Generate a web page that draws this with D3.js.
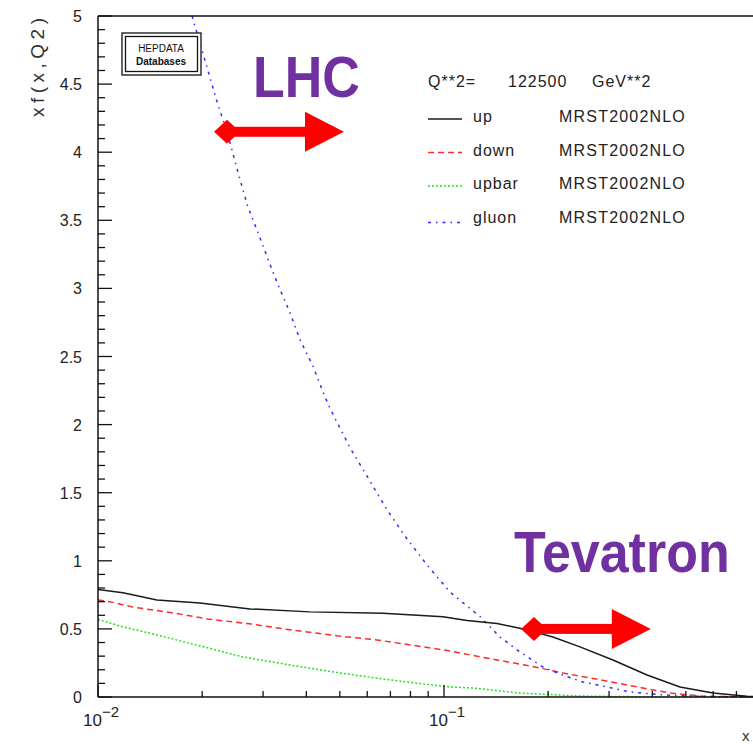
<!DOCTYPE html>
<html>
<head>
<meta charset="utf-8">
<script src="https://cdn.jsdelivr.net/npm/d3@7"></script>
<style>
  html, body { margin: 0; padding: 0; background: #fff; }
  svg { display: block; }
  text { font-family: "Liberation Sans", Arial, Helvetica, sans-serif; }
</style>
</head>
<body>
<svg id="chart" width="753" height="744"></svg>
<script>
// ---------------- data ----------------
const xUp    = [0.01, 0.0118, 0.0148, 0.0197, 0.0275, 0.041, 0.0666, 0.0993, 0.1166, 0.1423, 0.1692, 0.2065, 0.2472, 0.3078, 0.3862, 0.4809, 0.599, 0.751, 0.9];
const up     = [0.79, 0.765, 0.713, 0.69, 0.647, 0.625, 0.615, 0.59, 0.562, 0.54, 0.50, 0.44, 0.368, 0.272, 0.162, 0.074, 0.029, 0.005, 0.0];

const xDown  = [0.01, 0.0108, 0.0126, 0.0165, 0.0207, 0.0275, 0.0359, 0.0491, 0.064, 0.087, 0.1041, 0.1189, 0.1423, 0.1773, 0.2208, 0.2642, 0.3162, 0.3758, 0.4498, 0.561, 0.9];
const down   = [0.713, 0.70, 0.66, 0.617, 0.573, 0.537, 0.493, 0.449, 0.419, 0.368, 0.338, 0.309, 0.272, 0.228, 0.176, 0.14, 0.103, 0.066, 0.029, 0.005, 0.0];

const xUpbar = [0.01, 0.0118, 0.0148, 0.0197, 0.0263, 0.0359, 0.0478, 0.0666, 0.087, 0.1041, 0.1213, 0.1659, 0.2472, 0.3938, 0.716, 0.9];
const upbar  = [0.57, 0.515, 0.456, 0.375, 0.294, 0.235, 0.184, 0.132, 0.096, 0.074, 0.066, 0.029, 0.007, 0.001, 0.0, 0.0];

const xGluon = [0.0187, 0.0222, 0.0236, 0.0254, 0.0271, 0.029, 0.0318, 0.0336, 0.0359, 0.0384, 0.0418, 0.0447, 0.0468, 0.0535, 0.0603, 0.0684, 0.0772, 0.0893, 0.1041, 0.1271, 0.1452, 0.1659, 0.1932, 0.2208, 0.2522, 0.2958, 0.3448, 0.4295, 0.5383, 0.716, 0.9];
const gluon  = [5.0, 4.35, 4.15, 3.85, 3.60, 3.41, 3.14, 2.99, 2.82, 2.62, 2.43, 2.24, 2.12, 1.83, 1.61, 1.375, 1.18, 0.97, 0.77, 0.59, 0.44, 0.33, 0.22, 0.16, 0.11, 0.074, 0.037, 0.015, 0.005, 0.0, 0.0];

const seriesNames  = ["up", "down", "upbar", "gluon"];
const seriesSets   = ["MRST2002NLO", "MRST2002NLO", "MRST2002NLO", "MRST2002NLO"];
const yTickLabels  = ["0", "0.5", "1", "1.5", "2", "2.5", "3", "3.5", "4", "4.5", "5"];
const xMajorTicks  = [0.01, 0.1, 1];
const xLabelTicks  = [0.01, 0.1];
const xLabelExps   = ["\u22122", "\u22121"];
const headerParts  = ["Q**2=", "122500", "GeV**2"];

// ---------------- layout ----------------
const svg = d3.select("#chart");
const x = d3.scaleLog().domain([0.01, 1]).range([98, 790]);
const y = d3.scaleLinear().domain([0, 5]).range([697, 16]);

const styles = {
  up:    { color: "#1a1a1a", dash: null },
  down:  { color: "#ff2a2a", dash: "6,4" },
  upbar: { color: "#1fe01f", dash: "2,2" },
  gluon: { color: "#2b2bff", dash: "3,5,1.5,5" }
};

const seriesData = {
  up:    xUp.map((v, i) => [v, up[i]]),
  down:  xDown.map((v, i) => [v, down[i]]),
  upbar: xUpbar.map((v, i) => [v, upbar[i]]),
  gluon: xGluon.map((v, i) => [v, gluon[i]])
};

// clip
svg.append("defs").append("clipPath").attr("id", "plotclip")
  .append("rect").attr("x", 98).attr("y", 16).attr("width", 700).attr("height", 682);

// curves
const line = d3.line().x(d => x(d[0])).y(d => y(d[1]));
const curves = svg.append("g").attr("clip-path", "url(#plotclip)");
["upbar", "down", "gluon", "up"].forEach(k => {
  curves.append("path")
    .datum(seriesData[k])
    .attr("d", line)
    .attr("fill", "none")
    .attr("stroke", styles[k].color)
    .attr("stroke-width", 1.5)
    .attr("stroke-dasharray", styles[k].dash);
});

// frame
const axisColor = "#111";
svg.append("line").attr("x1", 98).attr("x2", 753).attr("y1", y(5)).attr("y2", y(5))
  .attr("stroke", axisColor).attr("stroke-width", 1.5);
svg.append("line").attr("x1", 98).attr("x2", 753).attr("y1", y(0)).attr("y2", y(0))
  .attr("stroke", axisColor).attr("stroke-width", 1.5);
svg.append("line").attr("x1", 98).attr("x2", 98).attr("y1", y(5)).attr("y2", y(0))
  .attr("stroke", axisColor).attr("stroke-width", 1.5);

// y ticks (inward)
const yMinor = d3.range(0, 51).map(i => i / 10);
svg.append("g").selectAll("line").data(yMinor).join("line")
  .attr("x1", 98)
  .attr("x2", d => (Math.round(d * 10) % 5 === 0) ? 112 : 105)
  .attr("y1", d => y(d)).attr("y2", d => y(d))
  .attr("stroke", axisColor).attr("stroke-width", 1.3);

svg.append("g").selectAll("text").data(yTickLabels).join("text")
  .attr("x", 82)
  .attr("y", d => y(+d) + 6)
  .attr("text-anchor", "end")
  .attr("font-size", 16)
  .attr("fill", "#222")
  .text(d => d);

// x ticks (inward, upward)
const xMinor = [];
[0.01, 0.1].forEach(b => { for (let m = 2; m <= 9; m++) xMinor.push(b * m); });
svg.append("g").selectAll("line").data(xMinor).join("line")
  .attr("x1", d => x(d)).attr("x2", d => x(d))
  .attr("y1", y(0)).attr("y2", y(0) - 6)
  .attr("stroke", axisColor).attr("stroke-width", 1.3);
svg.append("g").selectAll("line").data(xMajorTicks).join("line")
  .attr("x1", d => x(d)).attr("x2", d => x(d))
  .attr("y1", y(0)).attr("y2", y(0) - 12)
  .attr("stroke", axisColor).attr("stroke-width", 1.3);

const xl = svg.append("g").selectAll("text").data(xLabelTicks).join("text")
  .attr("x", d => x(d) - 15)
  .attr("y", 726)
  .attr("font-size", 17)
  .attr("fill", "#222");
xl.append("tspan").text("10");
xl.append("tspan").attr("dy", -9).attr("font-size", 15).text((d, i) => xLabelExps[i]);

// axis titles
svg.append("text").attr("x", 742).attr("y", 741).attr("font-size", 15).attr("fill", "#333").text("x");
svg.append("text")
  .attr("transform", "translate(44,117) rotate(-90)")
  .attr("font-size", 19)
  .attr("fill", "#333")
  .attr("textLength", 99)
  .text("xf(x,Q2)");

// HEPDATA box
const hb = svg.append("g");
hb.append("rect").attr("x", 122).attr("y", 33).attr("width", 79).attr("height", 42)
  .attr("fill", "#fff").attr("stroke", "#111").attr("stroke-width", 1.3);
hb.append("rect").attr("x", 125.5).attr("y", 36.5).attr("width", 72).attr("height", 35)
  .attr("fill", "none").attr("stroke", "#111").attr("stroke-width", 1.3);
hb.append("text").attr("x", 161).attr("y", 52).attr("text-anchor", "middle")
  .attr("font-size", 10).attr("fill", "#111").text("HEPDATA");
hb.append("text").attr("x", 161).attr("y", 65).attr("text-anchor", "middle")
  .attr("font-size", 10).attr("font-weight", "bold").attr("fill", "#111").text("Databases");

// legend
const lg = svg.append("g");
const headerX = [428, 508, 592];
headerParts.forEach((t, i) => {
  lg.append("text").attr("x", headerX[i]).attr("y", 87).attr("font-size", 16)
    .attr("letter-spacing", 1).attr("fill", "#222").text(t);
});
const rowBase = [122, 155.5, 189, 222.5];
const lineOff = [3, 3, 3, 0];
seriesNames.forEach((k, i) => {
  lg.append("line").attr("x1", 428).attr("x2", 462)
    .attr("y1", rowBase[i] - lineOff[i]).attr("y2", rowBase[i] - lineOff[i])
    .attr("stroke", styles[k].color).attr("stroke-width", 1.5)
    .attr("stroke-dasharray", styles[k].dash);
  lg.append("text").attr("x", 473).attr("y", rowBase[i]).attr("font-size", 16)
    .attr("letter-spacing", 1).attr("fill", "#222").text(k);
  lg.append("text").attr("x", 559).attr("y", rowBase[i]).attr("font-size", 16)
    .attr("letter-spacing", 1.2).attr("fill", "#222").text(seriesSets[i]);
});

// annotations
const purple = "#7030a0";
svg.append("text").attr("transform", "translate(253,97) scale(1,1.12)")
  .attr("font-size", 52).attr("font-weight", "bold")
  .attr("fill", purple).text("LHC");
svg.append("text").attr("transform", "translate(514,572) scale(1,1.12)")
  .attr("font-size", 52).attr("font-weight", "bold")
  .attr("fill", purple).text("Tevatron");

function arrow(x0, y0, xTip) {
  const cx = x(x0), cy = y(y0), tx = x(xTip);
  const g = svg.append("g").attr("fill", "#ff0000");
  const hw = 13, hh = 12;
  g.append("path").attr("d", `M${cx - hw},${cy} L${cx},${cy - hh} L${cx + hw},${cy} L${cx},${cy + hh} Z`);
  const headBase = tx - 39;
  g.append("rect").attr("x", cx).attr("y", cy - 5).attr("width", headBase - cx + 1).attr("height", 10);
  g.append("path").attr("d", `M${headBase},${cy - 20} L${tx},${cy} L${headBase},${cy + 20} Z`);
}
arrow(0.0236, 4.15, 0.0514);
arrow(0.182, 0.5, 0.396);
</script>
</body>
</html>
